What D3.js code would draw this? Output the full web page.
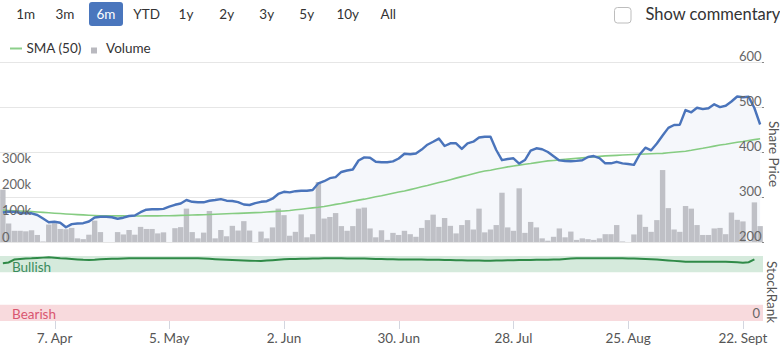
<!DOCTYPE html>
<html>
<head>
<meta charset="utf-8">
<script src="https://cdn.jsdelivr.net/npm/d3@7"></script>
<style>
  body { margin: 0; background: #fff; }
  svg { display: block; font-family: Lato, "Open Sans", sans-serif; }
</style>
</head>
<body>
<svg id="chart" width="780" height="345"></svg>
<script>
// Period selector and header
const rangeButtons = ["1m", "3m", "6m", "YTD", "1y", "2y", "3y", "5y", "10y", "All"];
const activeRange = "6m";

// Trading-day window shown on the chart
const firstDay = "2025-03-25";
const lastDay = "2025-09-25";

// Daily closing share price (pence)
const price = [
  265.6, 267.3, 266.9, 265.1, 264.0, 263.8, 260.0, 252.0, 244.0, 245.1,
  242.9, 232.7, 239.6, 241.1, 241.8, 245.6, 254.4, 256.0, 256.0, 255.0,
  251.6, 254.0, 257.8, 258.9, 266.2, 271.8, 272.7, 272.9, 273.6, 278.4,
  282.7, 285.6, 293.3, 289.3, 288.2, 288.2, 291.6, 293.3, 295.3, 291.8,
  291.1, 288.7, 283.3, 282.2, 286.4, 289.3, 290.7, 296.2, 306.7, 311.6,
  310.4, 312.9, 313.8, 314.0, 315.6, 330.4, 335.1, 341.8, 344.2, 355.6,
  358.9, 361.1, 381.1, 388.0, 387.3, 378.2, 377.1, 377.1, 379.1, 385.6,
  396.0, 394.9, 396.7, 405.3, 416.2, 422.7, 429.8, 413.3, 419.3, 419.3,
  406.9, 419.3, 422.9, 432.2, 434.0, 434.0, 404.4, 381.8, 384.4, 386.0,
  374.4, 382.2, 402.9, 408.2, 406.2, 400.0, 390.7, 381.3, 380.0, 379.6,
  380.2, 381.8, 388.9, 391.1, 386.4, 374.9, 374.9, 378.2, 374.7, 373.3,
  371.3, 394.4, 409.6, 403.8, 418.9, 436.7, 453.6, 460.0, 460.7, 493.3,
  488.2, 498.4, 495.3, 497.1, 506.0, 499.8, 502.7, 512.2, 523.3, 521.8,
  522.9, 497.8, 461.1
];

// 50-day simple moving average
const sma50 = [
  270.8, 270.1, 269.4, 268.8, 268.1, 267.5, 266.6, 265.8, 264.9, 264.0,
  263.2, 262.3, 261.6, 260.9, 260.3, 259.6, 259.0, 258.4, 258.3, 258.2,
  258.1, 258.0, 257.9, 257.8, 257.9, 258.0, 258.0, 258.1, 258.2, 258.3,
  258.7, 259.1, 259.5, 259.9, 260.3, 260.7, 261.2, 261.7, 262.2, 262.7,
  263.2, 263.7, 264.2, 264.7, 265.2, 265.7, 266.6, 267.4, 268.2, 269.0,
  269.9, 271.5, 272.8, 274.3, 275.9, 277.1, 278.8, 281.2, 283.6, 285.6,
  288.1, 290.5, 293.1, 295.2, 297.9, 300.5, 302.7, 305.4, 308.2, 311.1,
  313.5, 316.4, 319.5, 322.8, 325.6, 329.0, 332.3, 335.0, 338.4, 341.9,
  345.3, 348.2, 351.6, 355.0, 357.6, 359.6, 362.1, 364.5, 366.9, 369.0,
  370.9, 372.9, 374.5, 376.4, 378.4, 380.2, 381.2, 382.4, 383.6, 384.8,
  385.8, 387.0, 388.2, 389.2, 390.3, 391.3, 392.0, 392.6, 393.3, 393.9,
  394.6, 395.1, 395.6, 396.1, 396.5, 397.0, 398.2, 399.4, 400.5, 401.8,
  403.8, 406.2, 408.2, 410.7, 413.1, 415.5, 417.3, 419.4, 421.5, 423.3,
  425.4, 427.5, 429.6
];

// Daily traded volume, thousands of shares
const volumeK = [
  201, 71, 43, 43, 41, 45, 27, 2, 67, 72,
  50, 49, 54, 14, 11, 28, 82, 38, 0, 0,
  38, 29, 46, 28, 58, 50, 50, 33, 37, 0,
  53, 57, 128, 38, 14, 36, 119, 14, 46, 22,
  62, 44, 80, 44, 0, 40, 14, 56, 128, 103,
  24, 39, 106, 18, 30, 230, 90, 96, 111, 61,
  43, 61, 128, 132, 52, 18, 45, 8, 35, 27,
  43, 30, 20, 54, 84, 105, 58, 92, 62, 33,
  65, 84, 48, 128, 37, 48, 65, 189, 56, 43,
  206, 35, 77, 56, 14, 5, 20, 52, 18, 40,
  8, 14, 11, 8, 14, 30, 30, 65, 2, 0,
  29, 105, 58, 39, 84, 276, 130, 48, 39, 138,
  128, 65, 27, 27, 52, 54, 30, 113, 85, 79,
  2, 152, 61
];

// StockRank score (0-100); not yet published for the last session
const stockRank = [
  89, 90, 94.5, 95.5, 96.2, 96.5, 97, 97.5, 98, 97.2,
  96.5, 96, 95.4, 94.8, 94.2, 94, 94.4, 95, 95.3, 95.6,
  95.9, 96.2, 96.5, 96.5, 96.5, 96.5, 96.5, 96.5, 96.5, 96.5,
  96.5, 96.5, 96.5, 96.5, 96.5, 96.2, 95.6, 95.1, 94.6, 94.2,
  93.8, 93.5, 93.2, 92.8, 92.5, 92.4, 93, 93.6, 94.3, 94.9,
  95.2, 95.5, 95.7, 95.9, 96.1, 96.3, 96.4, 96.5, 96.5, 96.4,
  96.3, 96.2, 96.1, 96, 95.8, 95.5, 95.2, 94.9, 94.9, 94.8,
  94.7, 94.7, 94.6, 94.5, 94.4, 94.2, 94.1, 93.9, 93.7, 93.5,
  93.3, 93.2, 93, 92.9, 92.8, 92.8, 93, 93.2, 93.4, 93.6,
  93.7, 93.9, 94, 94.1, 94.3, 94.4, 94.5, 94.7, 95.3, 96,
  96.5, 96.5, 96.5, 96.5, 96.5, 96.5, 96.5, 96.5, 96.5, 96.3,
  96, 95.7, 95.4, 95.1, 94.7, 94, 93.2, 92.5, 91.8, 91.2,
  91.2, 91.2, 91.2, 91.2, 91.2, 91.2, 91, 90.6, 90.2, 89.7,
  90.5, 94.9, null
];

// Axis ticks
const priceTicks = [200, 300, 400, 500, 600];
const volumeTicks = [0, 100, 200, 300];
const dateTicks = ["2025-04-07", "2025-05-05", "2025-06-02", "2025-06-30", "2025-07-28", "2025-08-25", "2025-09-22"];
const dateTickLabels = ["7. Apr", "5. May", "2. Jun", "30. Jun", "28. Jul", "25. Aug", "22. Sept"];
const rankBands = [
  { from: 75, to: 100, label: "Bullish", fill: "#d5eadc", color: "#3a8c5c" },
  { from: 0, to: 25, label: "Bearish", fill: "#f8dadd", color: "#d9566f" }
];

// ---------------------------------------------------------------------------
const svg = d3.select("#chart");
const parse = d3.timeParse("%Y-%m-%d");
const fmt = d3.timeFormat("%Y-%m-%d");

// weekday sessions in the window
const days = d3.timeDay.range(parse(firstDay), d3.timeDay.offset(parse(lastDay), 1))
  .filter(d => d.getDay() !== 0 && d.getDay() !== 6)
  .map(fmt);

const rows = days.map((d, i) => ({
  day: d, price: price[i], sma: sma50[i], vol: volumeK[i], rank: stockRank[i]
}));

const plotLeft = 0, plotRight = 763;
const x = d3.scaleBand().domain(days).range([plotLeft, plotRight]).paddingInner(0.06).paddingOuter(0.03);
const cx = d => x(d) + x.bandwidth() / 2;

const yPrice = d3.scaleLinear().domain([200, 600]).range([242, 62]);
const yVol = d3.scaleLinear().domain([0, 300]).range([242, 163.8]);
const yRank = d3.scaleLinear().domain([0, 100]).range([321, 256]);

// ---- header: period buttons --------------------------------------------
const btnCenters = [25.7, 65, 106, 146.7, 186, 226.7, 266.7, 306.7, 347.7, 388.3];
const btn = svg.append("g").attr("class", "range-buttons");
rangeButtons.forEach((label, i) => {
  const active = label === activeRange;
  if (active) {
    btn.append("rect").attr("x", btnCenters[i] - 17).attr("y", 2).attr("width", 34).attr("height", 24)
      .attr("rx", 3).attr("fill", "#4a76bd");
  }
  btn.append("text").attr("x", btnCenters[i]).attr("y", 18.5).attr("text-anchor", "middle")
    .attr("font-size", 13.5).attr("fill", active ? "#fff" : "#333").text(label);
});

// commentary toggle
svg.append("rect").attr("x", 614.5).attr("y", 7.5).attr("width", 16.5).attr("height", 15.5).attr("rx", 3)
  .attr("fill", "#fff").attr("stroke", "#bdbdbd");
svg.append("text").attr("x", 645.5).attr("y", 19.8).attr("font-size", 16.5).attr("fill", "#333")
  .text("Show commentary");

// legend
const legend = svg.append("g");
legend.append("line").attr("x1", 10).attr("x2", 22).attr("y1", 48.5).attr("y2", 48.5)
  .attr("stroke", "#8ccf8a").attr("stroke-width", 2);
legend.append("text").attr("x", 26.5).attr("y", 53.3).attr("font-size", 13.5).attr("fill", "#333").text("SMA (50)");
legend.append("rect").attr("x", 91).attr("y", 47.5).attr("width", 6).attr("height", 6).attr("fill", "#b9b9bf");
legend.append("text").attr("x", 106).attr("y", 53.3).attr("font-size", 13.5).attr("fill", "#333").text("Volume");

// ---- price panel -------------------------------------------------------
const grid = svg.append("g");
priceTicks.forEach(t => {
  grid.append("line").attr("x1", plotLeft).attr("x2", plotRight)
    .attr("y1", Math.round(yPrice(t)) + 0.5).attr("y2", Math.round(yPrice(t)) + 0.5)
    .attr("stroke", "#e6e6e6").attr("stroke-width", 1);
});

// soft fill under the price
svg.append("path").datum(rows)
  .attr("fill", "#f5f7fb")
  .attr("d", d3.area().x(d => cx(d.day)).y0(yPrice(200)).y1(d => yPrice(d.price)));

// volume columns
svg.append("g").selectAll("rect").data(rows).join("rect")
  .attr("x", d => x(d.day))
  .attr("width", x.bandwidth())
  .attr("y", d => yVol(d.vol))
  .attr("height", d => yVol(0) - yVol(d.vol))
  .attr("fill", "#bfc0c6");

// moving average
svg.append("path").datum(rows)
  .attr("fill", "none").attr("stroke", "#86cc82").attr("stroke-width", 1.6)
  .attr("d", d3.line().x(d => cx(d.day)).y(d => yPrice(d.sma)));

// share price
svg.append("path").datum(rows)
  .attr("fill", "none").attr("stroke", "#4a74bb").attr("stroke-width", 2.4)
  .attr("stroke-linejoin", "round")
  .attr("d", d3.line().x(d => cx(d.day)).y(d => yPrice(d.price)));

// right price labels
priceTicks.forEach(t => {
  svg.append("text").attr("x", 761.5).attr("y", yPrice(t) - 1.5).attr("text-anchor", "end")
    .attr("font-size", 13).attr("fill", "#666").text(t);
  svg.append("line").attr("x1", 762).attr("x2", 764).attr("y1", yPrice(t) + 0.5).attr("y2", yPrice(t) + 0.5)
    .attr("stroke", "#888");
});

// left volume labels
volumeTicks.forEach(t => {
  svg.append("text").attr("x", 2).attr("y", yVol(t) - 0.5)
    .attr("font-size", 13).attr("fill", "#666").text(t === 0 ? "0" : t + "k");
});

svg.append("text").attr("transform", "translate(768.5,154) rotate(90)").attr("text-anchor", "middle")
  .attr("font-size", 13.5).attr("fill", "#555").text("Share Price");

// ---- StockRank panel ---------------------------------------------------
rankBands.forEach(b => {
  svg.append("rect").attr("x", plotLeft).attr("width", plotRight - plotLeft)
    .attr("y", yRank(b.to)).attr("height", yRank(b.from) - yRank(b.to)).attr("fill", b.fill);
});

svg.append("path").datum(rows)
  .attr("fill", "none").attr("stroke", "#2f8a47").attr("stroke-width", 2)
  .attr("d", d3.line().defined(d => d.rank != null).x(d => cx(d.day)).y(d => yRank(d.rank)));

svg.append("text").attr("x", 12).attr("y", 271.5).attr("font-size", 13.5)
  .attr("fill", rankBands[0].color).text(rankBands[0].label);
svg.append("text").attr("x", 12).attr("y", 318.8).attr("font-size", 13.5)
  .attr("fill", rankBands[1].color).text(rankBands[1].label);

svg.append("text").attr("x", 760).attr("y", 318).attr("text-anchor", "end")
  .attr("font-size", 13).attr("fill", "#666").text("0");
svg.append("text").attr("transform", "translate(767,292) rotate(90)").attr("text-anchor", "middle")
  .attr("font-size", 13.5).attr("fill", "#555").text("StockRank");

// ---- date axis ---------------------------------------------------------
const xAxis = svg.append("g");
dateTicks.forEach((d, i) => {
  const px = Math.round(cx(d)) + 0.5;
  xAxis.append("line").attr("x1", px).attr("x2", px).attr("y1", 321).attr("y2", 329)
    .attr("stroke", "#d3d6df");
  xAxis.append("text").attr("x", cx(d)).attr("y", 342.5).attr("text-anchor", "middle")
    .attr("font-size", 13.5).attr("fill", "#555").text(dateTickLabels[i]);
});
</script>
</body>
</html>
